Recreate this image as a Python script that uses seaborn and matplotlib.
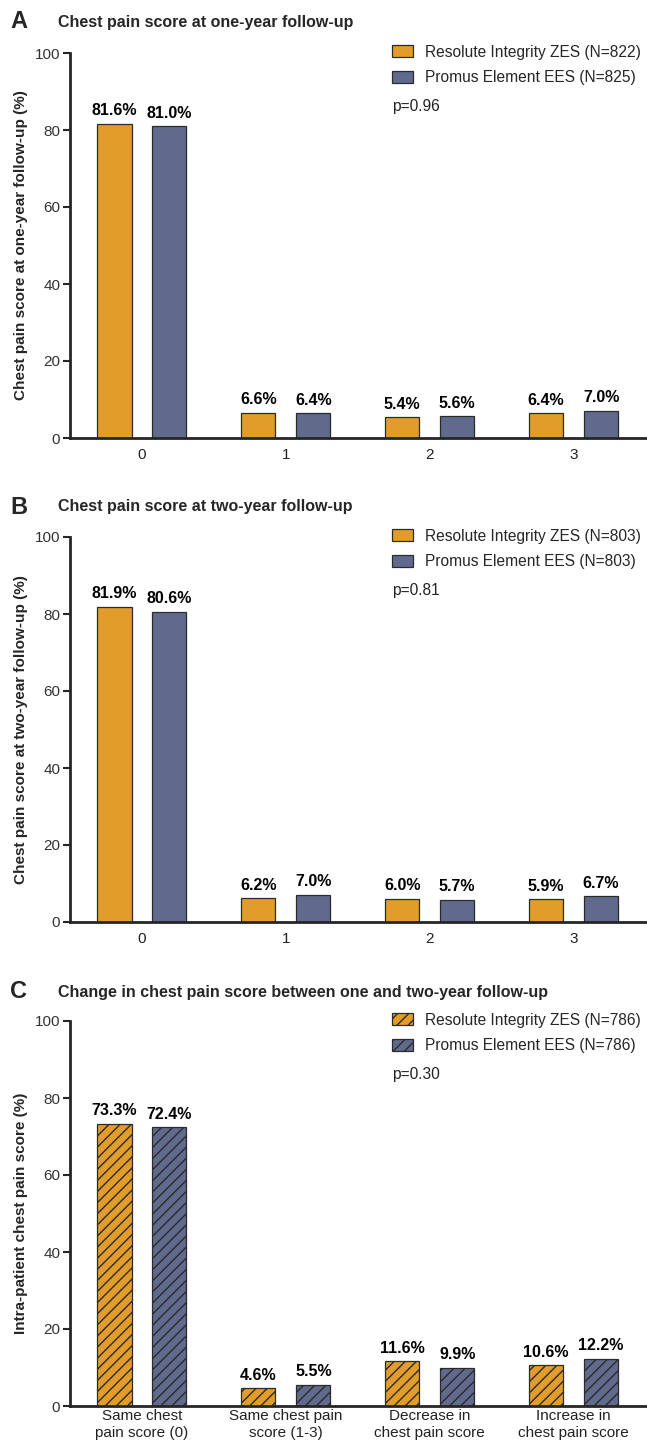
import pandas as pd
import seaborn as sns
import matplotlib.pyplot as plt
from matplotlib.patches import Patch

# Wartości (procent pacjentów)
groups = ["Resolute Integrity ZES", "Promus Element EES"]
score_labels = ["0", "1", "2", "3"]
change_labels = ["Same chest\npain score (0)", "Same chest pain\nscore (1-3)",
                 "Decrease in\nchest pain score", "Increase in\nchest pain score"]

one_year_zes = [81.6, 6.6, 5.4, 6.4]
one_year_ees = [81.0, 6.4, 5.6, 7.0]
two_year_zes = [81.9, 6.2, 6.0, 5.9]
two_year_ees = [80.6, 7.0, 5.7, 6.7]
change_zes = [73.3, 4.6, 11.6, 10.6]
change_ees = [72.4, 5.5, 9.9, 12.2]

n_one_year = [822, 825]
n_two_year = [803, 803]
n_change = [786, 786]
p_values = ["p=0.96", "p=0.81", "p=0.30"]

panel_letters = ["A", "B", "C"]
titles = ["Chest pain score at one-year follow-up",
          "Chest pain score at two-year follow-up",
          "Change in chest pain score between one and two-year follow-up"]
ylabels = ["Chest pain score at one-year follow-up (%)",
           "Chest pain score at two-year follow-up (%)",
           "Intra-patient chest pain score (%)"]

orange = "#E29C2A"
blue = "#5F6A8D"
edge = "#2b2b2b"

sns.set_style("ticks")
plt.rcParams["font.family"] = ["Liberation Sans", "DejaVu Sans"]
plt.rcParams["hatch.linewidth"] = 1.0


def make_frame(categories, zes, ees):
    rows = []
    for cat, a, b in zip(categories, zes, ees):
        rows.append({"cat": cat, "group": groups[0], "value": a})
        rows.append({"cat": cat, "group": groups[1], "value": b})
    return pd.DataFrame(rows)


panels = [
    (score_labels, one_year_zes, one_year_ees, n_one_year, False),
    (score_labels, two_year_zes, two_year_ees, n_two_year, False),
    (change_labels, change_zes, change_ees, n_change, True),
]

fig = plt.figure(figsize=(6.47, 14.46), dpi=100)
# pozycje osi w pikselach (góra = 100, dół = 0)
top_px = [53, 537, 1021]
height_px = 385
title_px = [22, 507, 992]

for i, (cats, zes, ees, ns, hatched) in enumerate(panels):
    bottom = 1 - (top_px[i] + height_px) / 1446
    ax = fig.add_axes([70 / 647, bottom, 577 / 647, height_px / 1446])
    df = make_frame(cats, zes, ees)
    sns.barplot(data=df, x="cat", y="value", hue="group", hue_order=groups,
                order=cats, palette=[orange, blue], saturation=1,
                width=0.764, gap=0.38, edgecolor=edge, linewidth=0.9,
                legend=False, ax=ax)

    if hatched:
        for patch in ax.patches:
            patch.set_hatch("///")

    for container in ax.containers:
        ax.bar_label(container, fmt="%.1f%%", padding=4, fontsize=11.5,
                     fontweight="bold", color="black")

    ax.set_ylim(0, 100)
    ax.set_xlim(-0.5, 3.51)
    ax.set_yticks([0, 20, 40, 60, 80, 100])
    ax.set_xlabel("")
    ax.set_ylabel(ylabels[i], fontsize=11, fontweight="bold", labelpad=5)
    ax.tick_params(axis="y", length=5, width=1.5, labelsize=11,
                   labelcolor="#333333", pad=2)
    ax.tick_params(axis="x", length=0, labelsize=11, labelcolor="#222222",
                   pad=2 if hatched else 7)
    if hatched:
        for lab in ax.get_xticklabels():
            lab.set_linespacing(1.25)
    sns.despine(ax=ax)
    ax.spines["left"].set_linewidth(2)
    ax.spines["bottom"].set_linewidth(2)

    handles = [
        Patch(facecolor=orange, edgecolor=edge, linewidth=0.9,
              hatch="///" if hatched else None,
              label=f"{groups[0]} (N={ns[0]})"),
        Patch(facecolor=blue, edgecolor=edge, linewidth=0.9,
              hatch="///" if hatched else None,
              label=f"{groups[1]} (N={ns[1]})"),
    ]
    ax.legend(handles=handles, loc="upper left", bbox_to_anchor=(0.558, 1.022),
              frameon=False, fontsize=11.2, borderaxespad=0, borderpad=0,
              handlelength=1.35, handleheight=0.77, handletextpad=0.75,
              labelspacing=0.7)
    ax.text(0.558, 1 - 53 / height_px, p_values[i], transform=ax.transAxes,
            fontsize=11.2, va="center", ha="left", color="#222222")

    ty = 1 - title_px[i] / 1446
    fig.text(0.0155, ty, panel_letters[i], fontsize=17,
             fontweight="bold", va="center", ha="left")
    fig.text(58 / 647, ty, titles[i], fontsize=11.5, fontweight="bold",
             va="center", ha="left")

fig.savefig("out.png", dpi=100)
